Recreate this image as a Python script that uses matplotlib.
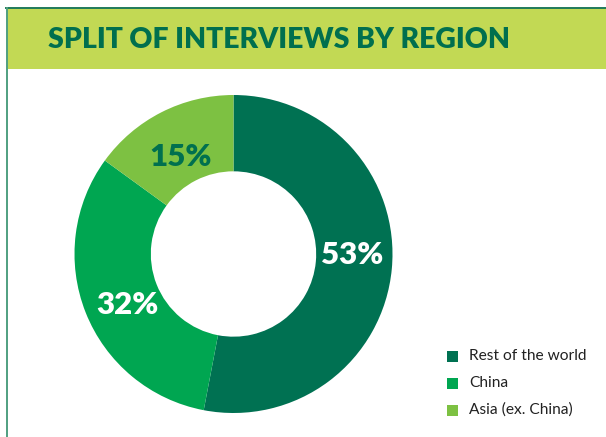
import matplotlib.pyplot as plt
from matplotlib.patches import Rectangle
from matplotlib.lines import Line2D

# data
regions = ["Rest of the world", "China", "Asia (ex. China)"]
shares = [53, 32, 15]
colors = ["#007152", "#00a651", "#7dc142"]
label_colors = ["white", "white", "#00704f"]

W, H = 606, 437
fig = plt.figure(figsize=(W / 100, H / 100), dpi=100)

def fx(px):
    return px / W

def fy(py):
    return 1 - py / H

# title bar + frame
fig.patches.append(Rectangle((fx(7), fy(69)), fx(W - 7), (69 - 8) / H,
                             transform=fig.transFigure, facecolor="#c2d954",
                             edgecolor="none", zorder=0))
fig.lines.append(Line2D([fx(6), 1], [fy(8), fy(8)], transform=fig.transFigure,
                        color="#1f7a5a", lw=1.4))
fig.lines.append(Line2D([fx(6.5), fx(6.5)], [fy(8), 0], transform=fig.transFigure,
                        color="#4f9f80", lw=1.4))
fig.text(fx(48), fy(40), "SPLIT OF INTERVIEWS BY REGION", color="#006f4e",
         fontsize=20.4, fontweight="heavy", family="Lato", va="center", ha="left")

# donut
cx, cy, r = 233.5, 254, 159
ax = fig.add_axes([fx(cx - r), fy(cy + r), 2 * r / W, 2 * r / H])
wedges, _ = ax.pie(shares, colors=colors, startangle=90, counterclock=False,
                   radius=1.0, wedgeprops=dict(width=0.48, edgecolor="none"))
ax.set_xlim(-1, 1)
ax.set_ylim(-1, 1)
ax.set_aspect("equal")
ax.axis("off")

label_pos = [(352, 255), (127, 305), (181, 157)]
for s, (px, py), c in zip(shares, label_pos, label_colors):
    fig.text(fx(px), fy(py), f"{s}%", color=c, fontsize=22.5, fontweight="heavy",
             family="Lato", ha="center", va="center")

# legend
leg_y = [356, 383, 410]
for name, c, py in zip(regions, colors, leg_y):
    fig.patches.append(Rectangle((fx(447), fy(py + 5.5)), 11 / W, 11 / H,
                                 transform=fig.transFigure, facecolor=c,
                                 edgecolor="none"))
    fig.text(fx(469), fy(py), name, color="#222222", fontsize=11.2,
             family="Lato", ha="left", va="center")

fig.savefig("out.png", dpi=100)
